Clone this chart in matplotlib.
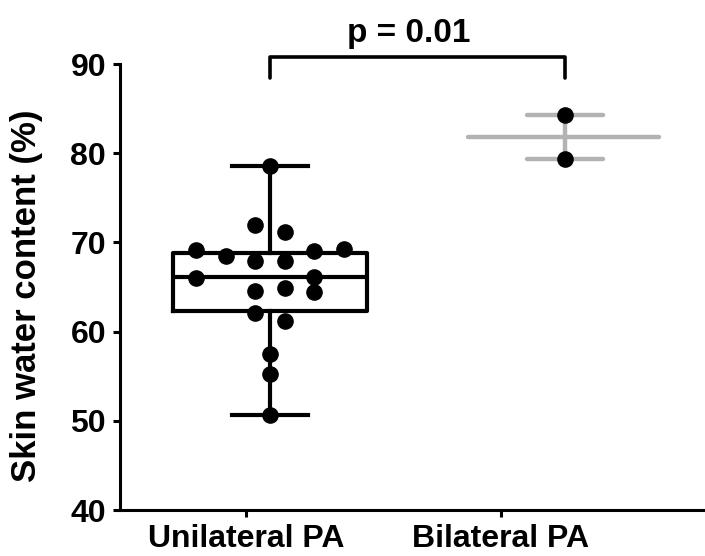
import matplotlib
matplotlib.use("Agg")
import matplotlib.pyplot as plt
import numpy as np

plt.rcParams['font.family'] = ['Liberation Sans', 'DejaVu Sans']
plt.rcParams['font.weight'] = 'bold'

# data
groups = ['Unilateral PA', 'Bilateral PA']
uni_vals = [78.6, 71.95, 71.2, 69.15, 68.5, 67.9, 67.9, 69.0, 69.3,
            66.05, 66.15, 64.6, 64.9, 64.4, 62.1, 61.2, 57.45, 55.3, 50.6]
uni_offs = [0, -0.05, 0.05, -0.25, -0.15, -0.05, 0.05, 0.15, 0.25,
            -0.25, 0.15, -0.05, 0.05, 0.15, -0.05, 0.05, 0, 0, 0]
bi_vals = [84.3, 79.4]
# box stats as drawn (Prism style quartiles)
uni_box = dict(med=66.1, q1=62.35, q3=68.85, whislo=50.6, whishi=78.6)
p_text = 'p = 0.01'

fig = plt.figure(figsize=(7.05, 5.56), dpi=100)
ax = fig.add_axes([120/705, 46/556, 585/705, 446/556])

stats = [dict(uni_box, fliers=[], label='')]
ax.bxp(stats, positions=[0], widths=0.66, showfliers=False,
       boxprops=dict(color='black', linewidth=3),
       medianprops=dict(color='black', linewidth=3),
       whiskerprops=dict(color='black', linewidth=3),
       capprops=dict(color='black', linewidth=3), capwidths=0.26,
       manage_ticks=False, zorder=2)
ax.scatter(np.array(uni_offs), uni_vals, s=120, color='black', zorder=3)

# bilateral: mean +/- SEM in grey
bi = np.array(bi_vals)
m = bi.mean()
sem = bi.std(ddof=1) / np.sqrt(len(bi))
grey = '#b3b3b3'
ax.hlines(m, 1 - 0.33, 1 + 0.32, color=grey, linewidth=3.2, capstyle='round', zorder=2)
ax.errorbar([1], [m], yerr=[sem], color=grey, elinewidth=3.2, capsize=0, zorder=2)
ax.hlines([m - sem, m + sem], 1 - 0.13, 1 + 0.13, color=grey, linewidth=3.2,
          capstyle='round', zorder=2)
ax.scatter(np.ones(len(bi)), bi, s=120, color='black', zorder=3)

# significance bracket
ax.plot([0, 0, 1, 1], [88.4, 90.8, 90.8, 88.4], color='black', linewidth=2.6,
        clip_on=False, solid_capstyle='round')
ax.text(0.47, 92.45, p_text, ha='center', va='baseline', fontsize=24,
        fontweight='bold')

ax.set_ylim(40, 90)
ax.set_xlim(-0.508, 1.475)
ax.set_yticks([40, 50, 60, 70, 80, 90])
ax.set_xticks([-0.081, 0.783])
ax.set_xticklabels(groups, fontsize=23, fontweight='bold')
ax.tick_params(axis='y', labelsize=23, width=2.2, length=5, pad=5)
ax.tick_params(axis='x', width=2.2, length=5, pad=5)
for lab in ax.get_yticklabels():
    lab.set_fontweight('bold')
ax.set_ylabel('Skin water content (%)', fontsize=25, fontweight='bold')
ax.yaxis.set_label_coords(-0.132, 0.48)
ax.spines['top'].set_visible(False)
ax.spines['right'].set_visible(False)
ax.spines['left'].set_linewidth(2.2)
ax.spines['bottom'].set_linewidth(2.2)

fig.savefig('out.png', dpi=100)
